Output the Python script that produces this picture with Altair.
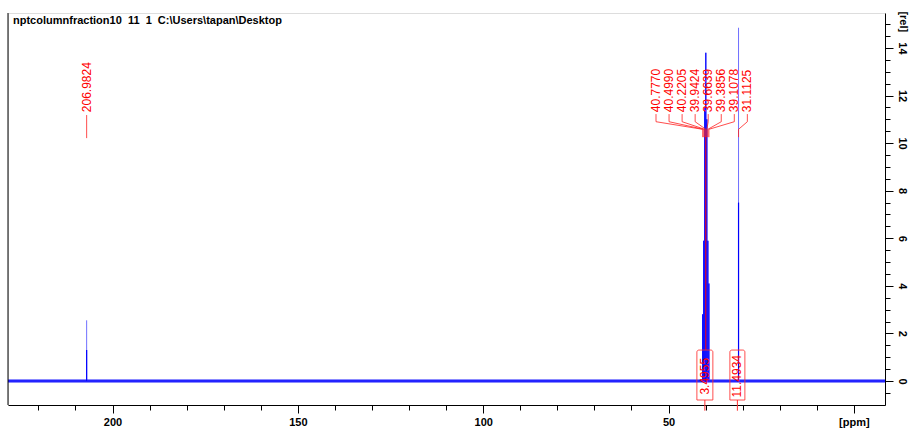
import altair as alt
import pandas as pd

# ---------------- data ----------------
title_text = "nptcolumnfraction10\u00a0\u00a011\u00a0\u00a01\u00a0\u00a0C:\\Users\\tapan\\Desktop"

peak_ppm = [206.9824, 40.7770, 40.4990, 40.2205, 39.9424, 39.6639, 39.3856, 39.1078, 31.1125]
peak_label = ["206.9824", "40.7770", "40.4990", "40.2205", "39.9424", "39.6639", "39.3856", "39.1078", "31.1125"]
peak_tip = [2.55, 2.8, 5.9, 11.5, 13.8, 11.0, 5.9, 4.1, 14.85]
peak_body = [1.3, 2.8, 5.9, 11.5, 13.8, 11.0, 5.9, 4.1, 7.5]

integral_label = ["3.4955", "11.4934"]
integral_left = [42.35, 33.45]
integral_right = [38.04, 29.40]

# baseline noise envelope (rel. intensity)
noise_outer = [-0.09, 0.08]
noise_inner = [-0.03, 0.03]

x_ticks = list(range(0, 221, 10))
y_ticks = [v / 2 for v in range(-1, 32)]

X_DOMAIN = [228.2, -8.4]
Y_DOMAIN = [-1.01, 15.47]

# ---------------- tables ----------------
peaks = pd.DataFrame({"ppm": peak_ppm, "tip": peak_tip, "body": peak_body})
peaks["base"] = 0.0

# label slots: isolated peak labelled in place, cluster labels spread evenly
label_gap = 3.52
slots = [peak_ppm[0]] + [peak_ppm[1] + 12.6 - i * label_gap for i in range(8)]
labels = pd.DataFrame({"slot": slots, "text": peak_label, "ppm": peak_ppm})

rows = []
for i, (s, p) in enumerate(zip(slots, peak_ppm)):
    if i == 0:
        pts = [(s, 11.18), (p, 10.21)]
    else:
        pts = [(s, 11.22), (s, 10.9), (p, 10.58), (p, 10.25)]
    for k, (xx, yy) in enumerate(pts):
        rows.append({"id": i, "seq": k, "x": xx, "y": yy})
leaders = pd.DataFrame(rows)

integrals = pd.DataFrame({"text": integral_label, "left": integral_left, "right": integral_right})
integrals["mid"] = (integrals["left"] + integrals["right"]) / 2

frame = pd.DataFrame({"a": [0]})

FONT = "Liberation Sans"
xs = alt.Scale(domain=X_DOMAIN, nice=False, zero=False)
ys = alt.Scale(domain=Y_DOMAIN, nice=False, zero=False)

x_axis = alt.Axis(
    values=x_ticks, orient="bottom", title=None, grid=False,
    labelExpr="datum.value === 0 ? '[ppm]' : (datum.value % 50 === 0 ? format(datum.value, 'd') : '')",
    labelFont=FONT, labelFontWeight="bold", labelFontSize=11, labelColor="black",
    labelOverlap=False, labelFlush=False, labelPadding=3,
    domainColor="black", tickColor="black",
    tickSize={"condition": {"test": "datum.value % 50 === 0", "value": 8}, "value": 5},
)
y_axis = alt.Axis(
    values=y_ticks, orient="right", title=None, grid=False,
    labelExpr="(datum.value >= 0 && datum.value <= 14 && datum.value % 2 === 0) ? format(datum.value, 'd') : ''",
    labelAngle=90, labelFont=FONT, labelFontWeight="bold", labelFontSize=11, labelColor="black",
    labelOverlap=False, labelFlush=False, labelPadding=3,
    domainColor="black", tickColor="black",
    tickSize={"condition": {"test": "datum.value % 2 === 0", "value": 8}, "value": 5},
)


def X(field=None, datum=None):
    if datum is not None:
        return alt.X(datum=datum, scale=xs, axis=x_axis)
    return alt.X(field, type="quantitative", scale=xs, axis=x_axis)


def Y(field=None, datum=None):
    if datum is not None:
        return alt.Y(datum=datum, scale=ys, axis=y_axis)
    return alt.Y(field, type="quantitative", scale=ys, axis=y_axis)


noise_light = alt.Chart(frame).mark_rect(color="#5a5aff", opacity=0.7).encode(
    x=X(datum=X_DOMAIN[0]), x2=alt.X2(datum=X_DOMAIN[1]),
    y=Y(datum=noise_outer[0]), y2=alt.Y2(datum=noise_outer[1]),
)
noise = alt.Chart(frame).mark_rect(color="#0000ff").encode(
    x=X(datum=X_DOMAIN[0]), x2=alt.X2(datum=X_DOMAIN[1]),
    y=Y(datum=noise_inner[0]), y2=alt.Y2(datum=noise_inner[1]),
)

tips = alt.Chart(peaks).mark_rule(color="#6f6fff", strokeWidth=1).encode(
    x=X("ppm"), y=Y("base"), y2="tip:Q",
)
bodies = alt.Chart(peaks).mark_rule(color="#0000ff", strokeWidth=1.2).encode(
    x=X("ppm"), y=Y("base"), y2="body:Q",
)

integral_curve = alt.Chart(frame).mark_rule(color="#ff0000", strokeWidth=1).encode(
    x=X(datum=39.95), y=Y(datum=1.3), y2=alt.Y2(datum=10.3),
)

boxes = alt.Chart(integrals).mark_rect(
    stroke="#ff3030", strokeWidth=1, fillOpacity=0, strokeOpacity=0.85,
    cornerRadiusTopLeft=2, cornerRadiusTopRight=2,
).encode(
    x=X("left"), x2="right:Q",
    y=Y(datum=1.3), y2=alt.Y2(datum=-0.8),
)
stems = alt.Chart(integrals).mark_rule(color="#ff3030", strokeWidth=1).encode(
    x=X("mid"), y=Y(datum=-0.8), y2=alt.Y2(datum=-1.25),
)
integral_text = alt.Chart(integrals).mark_text(
    angle=270, align="center", baseline="middle", font=FONT, fontSize=12, color="#ff0000",
).encode(
    x=X("mid"), y=Y(datum=0.2), text="text:N",
)

leader_lines = alt.Chart(leaders).mark_line(color="#ff2020", strokeWidth=1, opacity=0.8).encode(
    x=X("x"), y=Y("y"), detail="id:N", order="seq:Q",
)
label_text = alt.Chart(labels).mark_text(
    angle=270, align="left", baseline="middle", font=FONT, fontSize=12, color="#ff0000",
).encode(
    x=X("slot"), y=Y(datum=11.3), text="text:N",
)

unit_text = alt.Chart(frame).mark_text(
    angle=90, align="center", baseline="middle", font=FONT, fontSize=11,
    fontWeight="bold", color="black",
).encode(
    x=X(datum=-13.2), y=Y(datum=15.1), text=alt.value("[rel]"),
)

left_border = alt.Chart(frame).mark_rule(color="black", strokeWidth=1).encode(
    x=alt.value(0),
)

chart = alt.layer(
    noise_light, noise, tips, bodies, integral_curve, boxes, stems, integral_text,
    leader_lines, label_text, unit_text, left_border,
).properties(
    width=877, height=392,
    autosize=alt.AutoSizeParams(type="none"),
    padding={"left": 8, "top": 13, "right": 24, "bottom": 30},
    title=alt.TitleParams(
        text=title_text, anchor="start", frame="group", orient="top",
        offset=0, dx=5, dy=24, baseline="alphabetic",
        font=FONT, fontSize=11, fontWeight="bold", color="black",
    ),
).configure_view(strokeWidth=0).configure(background="white")

chart.save("out.html", embed_options={"renderer": "svg", "actions": False})
